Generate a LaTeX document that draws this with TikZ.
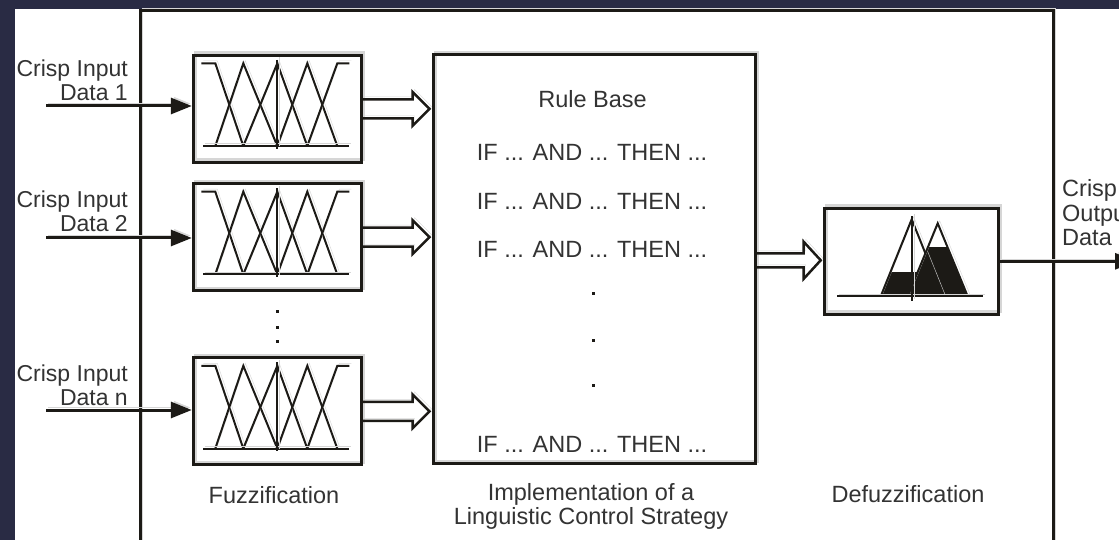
\documentclass[tikz,border=0pt]{standalone}
\usepackage{fontspec}
\setmainfont{Liberation Sans}
\usetikzlibrary{arrows.meta,calc}

\definecolor{navy}{RGB}{41,43,68}
\definecolor{ink}{RGB}{28,26,22}
\definecolor{ghost}{RGB}{214,214,214}

% hollow double-line arrow between two points on one horizontal line
% #1 start, #2 tip, #3 half gap of the shaft, #4 half width of the head
\newcommand\hollowarrow[4]{%
  \draw[hollow] ($#1+(0,-#3)$) -- ($#2+(-19,-#3)$) -- ($#2+(-19,-#4)$)
    -- ($#2+(-2,0)$) -- ($#2+(-19,#4)$) -- ($#2+(-19,#3)$) -- ($#1+(0,#3)$);}

\tikzset{
  ghosted/.style={preaction={draw=ghost, transform canvas={shift={(2pt,2.5pt)}}}},
  frameline/.style={draw=ink, line width=3pt, ghosted},
  blockbox/.style={draw=ink, line width=3pt, ghosted, inner sep=0pt},
  mf/.style={draw=ink, line width=2pt, ghosted},
  inarrow/.style={draw=ink, line width=3pt, ghosted, -{Triangle[length=21pt,width=16pt]}},
  hollow/.style={draw=ink, line width=2.5pt, ghosted, line join=miter},
  lab/.style={font=\fontsize{23.5}{24.5}\selectfont, text=black!80, inner sep=0pt},
  inlab/.style={lab, font=\fontsize{23}{24.5}\selectfont, anchor=north east, align=right},
  dotmark/.style={fill=ink, minimum size=3pt, inner sep=0pt},
  % triangular membership functions with two shoulders
  fuzzyset/.pic={
    \draw[mf] (-76,-45.5) -- (-62,-45.5) -- (-34,37.2);
    \draw[mf] (-62,37.2) -- (-34,-45.5) -- (0,37.2);
    \draw[mf] (-34,37.2) -- (0,-45.5) -- (30,37.2);
    \draw[mf] (0,37.2) -- (30,-45.5) -- (60,37.2);
    \draw[mf] (30,37.2) -- (60,-45.5) -- (72,-45.5);
    \draw[mf] (-74,37.2) -- (72,37.2);
    \draw[mf] (0,-49) -- (0,40);
  },
  % clipped output sets and their union
  outputset/.pic={
    \begin{scope}
      \clip (-80,11) rectangle (80,40);
      \fill[ink] (-30.5,35) -- (0.5,-42) -- (31.5,35) -- cycle;
    \end{scope}
    \begin{scope}
      \clip (-80,-14) rectangle (80,40);
      \fill[ink] (-3.5,35) -- (26.5,-38) -- (56.5,35) -- cycle;
    \end{scope}
    \draw[mf] (-30.5,35) -- (0.5,-42) -- (31.5,35);
    \draw[mf] (-3.5,35) -- (26.5,-38) -- (56.5,35);
    \draw[mf] (-74,35) -- (72,35);
    \draw[mf] (0.5,-45) -- (0.5,40);
  },
}

\begin{document}
\begin{tikzpicture}[x=1pt,y=-1pt]
\useasboundingbox (0,0) rectangle (1119,540);
\clip (0,0) rectangle (1119,540);
\fill[navy] (0,0) rectangle (1119,540);
\fill[white] (15,9) rectangle (1130,550);
\clip (15,9) rectangle (1130,550);

% controller frame
\draw[frameline] (140,560) -- (140,10.5) -- (1053.3,10.5) -- (1053.3,560);

% blocks
\node[blockbox, minimum width=168pt, minimum height=107pt] (f1) at (277.3,108.8) {};
\node[blockbox, minimum width=168pt, minimum height=107pt] (f2) at (277.3,237.2) {};
\node[blockbox, minimum width=168pt, minimum height=107pt] (f3) at (277.3,411.3) {};
\node[blockbox, minimum width=322pt, minimum height=409pt] (rb) at (594,259.3) {};
\node[blockbox, minimum width=174pt, minimum height=106pt] (df) at (911.2,261.3) {};

\pic at (f1) {fuzzyset};
\pic at (f2) {fuzzyset};
\pic at (f3) {fuzzyset};
\pic at (df) {outputset};

% vertical ellipsis between the fuzzifiers
\node[dotmark] (v1) at (277.7,311.7) {};
\node[dotmark] (v2) at (277.7,327.3) {};
\node[dotmark] (v3) at (277.7,341.7) {};

% crisp inputs
\coordinate (in1) at (46,106);
\coordinate (in2) at (46,238);
\coordinate (in3) at (46,410);
\draw[inarrow] (in1) -- (in1 -| f1.west);
\draw[inarrow] (in2) -- (in2 -| f2.west);
\draw[inarrow] (in3) -- (in3 -| f3.west);

\node[inlab] (c1) at (128,59.6) {Crisp Input\\Data 1};
\node[inlab] (c2) at (128,190.3) {Crisp Input\\Data 2};
\node[inlab] (c3) at (128,364.3) {Crisp Input\\Data n};

% fuzzy sets into the rule base, rule base into the defuzzifier
\hollowarrow{(f1.east)}{(f1.east -| rb.west)}{9.5}{17}
\hollowarrow{(f2.east)}{(f2.east -| rb.west)}{9.5}{17}
\hollowarrow{(f3.east)}{(f3.east -| rb.west)}{9.5}{17}
\hollowarrow{(rb.east |- 0,260.3)}{(df.west |- 0,260.3)}{7}{18.5}

% rule base contents
\node[lab, anchor=base] (rbt) at (592.5,108) {Rule Base};
\node[lab, anchor=base] (r1) at (592,161) {IF ... AND ... THEN ...};
\node[lab, anchor=base] (r2) at (592,210) {IF ... AND ... THEN ...};
\node[lab, anchor=base] (r3) at (592,258) {IF ... AND ... THEN ...};
\node[dotmark] (h1) at (593.3,293.3) {};
\node[dotmark] (h2) at (593.3,340) {};
\node[dotmark] (h3) at (593.3,385) {};
\node[lab, anchor=base] (r4) at (592,452) {IF ... AND ... THEN ...};

% crisp output
\coordinate (outend) at (1136,261.7);
\draw[inarrow] (df.east) -- (df.east -| outend);
\node[lab, anchor=north west, align=left] (co) at (1062,179.6) {Crisp\\Output\\Data};

% stage captions
\node[lab, anchor=base] (fz) at (274,503) {Fuzzification};
\node[lab, anchor=north, align=center] (impl) at (591,483) {Implementation of a\\Linguistic Control Strategy};
\node[lab, anchor=base] (dfz) at (908,502) {Defuzzification};
\end{tikzpicture}
\end{document}
